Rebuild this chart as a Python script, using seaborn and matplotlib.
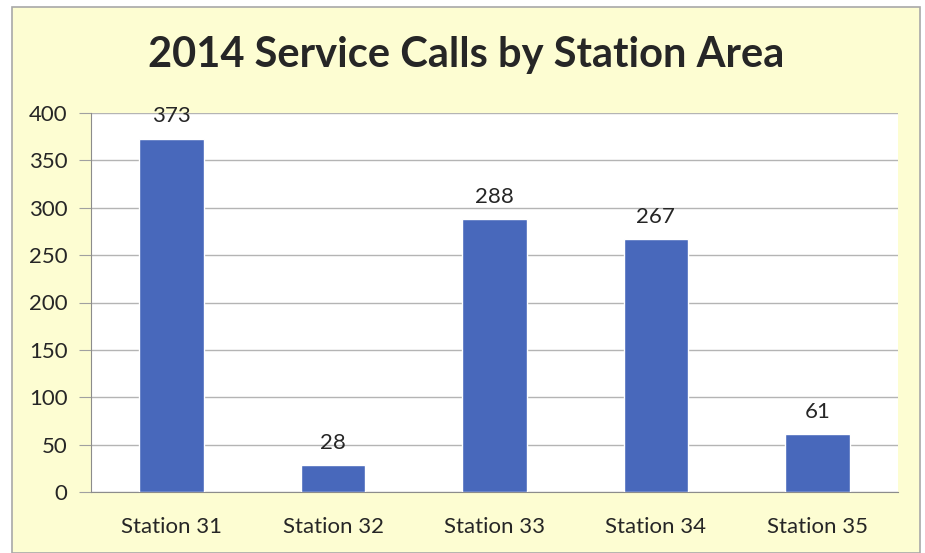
import numpy as np
import pandas as pd
import matplotlib
matplotlib.use("Agg")
import matplotlib.pyplot as plt
import seaborn as sns
from matplotlib.patches import Rectangle

# chart data
stations = ["Station 31", "Station 32", "Station 33", "Station 34", "Station 35"]
calls = [373, 28, 288, 267, 61]
y_ticks = [0, 50, 100, 150, 200, 250, 300, 350, 400]

df = pd.DataFrame({"Station": stations, "Calls": calls})

sns.set_style("white")
plt.rcParams["font.family"] = ["Lato", "DejaVu Sans"]

fig = plt.figure(figsize=(9.25, 5.53), dpi=100)
fig.patch.set_facecolor("white")

# pale yellow chart area with a gray frame
fig.patches.append(Rectangle((12 / 925, 0), 908 / 925, 546 / 553, transform=fig.transFigure,
                             facecolor="#fdfdd2", edgecolor="#a8a8a8", linewidth=1.2, zorder=-10))

ax = fig.add_axes([91 / 925, 61 / 553, 807 / 925, 379 / 553])
ax.set_facecolor("white")

sns.barplot(data=df, x="Station", y="Calls", color="#4868bb", width=0.4,
            saturation=1, ax=ax, zorder=3)

ax.bar_label(ax.containers[0], labels=[str(v) for v in calls], padding=9,
             fontsize=16, color="#262626")

ax.set_ylim(0, 400)
ax.set_yticks(y_ticks)
ax.set_xlim(-0.5, len(stations) - 0.5)
ax.yaxis.grid(True, color="#b4b4b4", linewidth=1, zorder=0)
ax.set_axisbelow(True)

ax.set_xticks(np.arange(-0.5, len(stations)), minor=True)
ax.tick_params(axis="x", which="major", length=0, pad=18, labelsize=16, labelcolor="#262626")
ax.tick_params(axis="x", which="minor", length=6, color="#8c8c8c", direction="out")
ax.tick_params(axis="y", length=9, color="#a0a0a0", left=True, pad=8, labelsize=16,
               labelcolor="#262626")

for side in ["top", "right"]:
    ax.spines[side].set_visible(False)
ax.spines["left"].set_color("#8c8c8c")
ax.spines["bottom"].set_color("#8c8c8c")

ax.set_xlabel("")
ax.set_ylabel("")

fig.text(466 / 925, 1 - 55 / 553, "2014 Service Calls by Station Area", ha="center", va="center",
         fontsize=30, fontweight="bold", color="#262626")

fig.savefig("out.png", dpi=100)
